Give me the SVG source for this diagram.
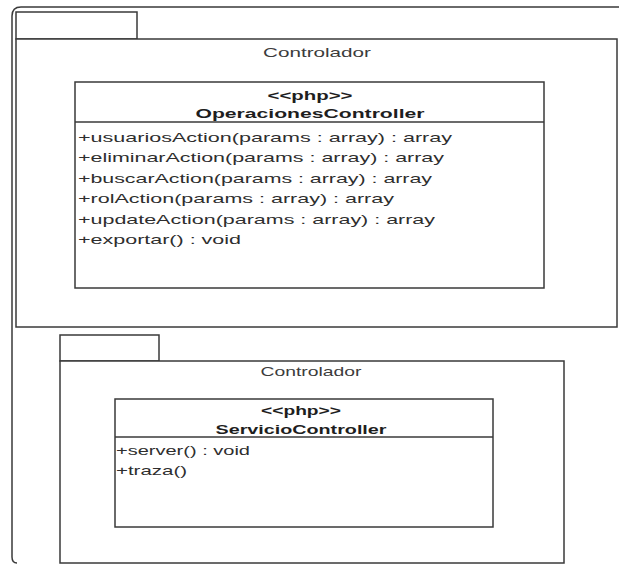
<svg xmlns="http://www.w3.org/2000/svg" width="619" height="566" viewBox="0 0 619 566">
  <style>
    .line { fill: none; stroke: #3a3a3a; stroke-width: 1.5; }
    .box { fill: #ffffff; stroke: #3a3a3a; stroke-width: 1.5; }
    .txt { font-family: "Liberation Sans", Arial, sans-serif; font-size: 13px; fill: #2e2e2e; }
    .pkg { text-anchor: middle; fill: #3c3c3c; }
    .hdr { text-anchor: middle; font-weight: bold; fill: #1e1e1e; }
  </style>
  <rect width="619" height="566" fill="#ffffff"/>

  <!-- outer model frame -->
  <path class="line" d="M 17 563 Q 12 563 12 557 L 12 16 Q 12 7 21 7 L 619 7"/>

  <!-- upper package -->
  <g id="pkg-controlador-1">
    <rect class="box" x="16" y="12" width="121" height="27"/>
    <rect class="box" x="16" y="39" width="601" height="288"/>
    <text class="txt pkg" x="317" y="57" textLength="108" lengthAdjust="spacingAndGlyphs">Controlador</text>
  </g>

  <g id="class-operaciones">
    <rect class="box" x="75" y="82" width="469" height="206"/>
    <line class="line" x1="75" y1="122" x2="544" y2="122"/>
    <text class="txt hdr" x="310" y="99.5" textLength="85" lengthAdjust="spacingAndGlyphs">&lt;&lt;php&gt;&gt;</text>
    <text class="txt hdr" x="310" y="118" textLength="229" lengthAdjust="spacingAndGlyphs">OperacionesController</text>
    <text class="txt" x="78" y="141.5" textLength="374" lengthAdjust="spacingAndGlyphs">+usuariosAction(params : array) : array</text>
    <text class="txt" x="78" y="162" textLength="366" lengthAdjust="spacingAndGlyphs">+eliminarAction(params : array) : array</text>
    <text class="txt" x="78" y="182.5" textLength="354" lengthAdjust="spacingAndGlyphs">+buscarAction(params : array) : array</text>
    <text class="txt" x="78" y="203" textLength="316" lengthAdjust="spacingAndGlyphs">+rolAction(params : array) : array</text>
    <text class="txt" x="78" y="223.5" textLength="357" lengthAdjust="spacingAndGlyphs">+updateAction(params : array) : array</text>
    <text class="txt" x="78" y="244" textLength="163" lengthAdjust="spacingAndGlyphs">+exportar() : void</text>
  </g>

  <!-- lower package -->
  <g id="pkg-controlador-2">
    <rect class="box" x="60" y="335" width="99" height="26"/>
    <rect class="box" x="60" y="361" width="504" height="202"/>
    <text class="txt pkg" x="311" y="375.5" textLength="101" lengthAdjust="spacingAndGlyphs">Controlador</text>
  </g>

  <g id="class-servicio">
    <rect class="box" x="115" y="399" width="378" height="128"/>
    <line class="line" x1="115" y1="437" x2="493" y2="437"/>
    <text class="txt hdr" x="301" y="414.5" textLength="80" lengthAdjust="spacingAndGlyphs">&lt;&lt;php&gt;&gt;</text>
    <text class="txt hdr" x="301" y="433.5" textLength="171" lengthAdjust="spacingAndGlyphs">ServicioController</text>
    <text class="txt" x="116" y="455" textLength="134" lengthAdjust="spacingAndGlyphs">+server() : void</text>
    <text class="txt" x="116" y="474.5" textLength="71" lengthAdjust="spacingAndGlyphs">+traza()</text>
  </g>

  <!-- no connectors between these elements -->
  <g id="connectors"/>
</svg>
